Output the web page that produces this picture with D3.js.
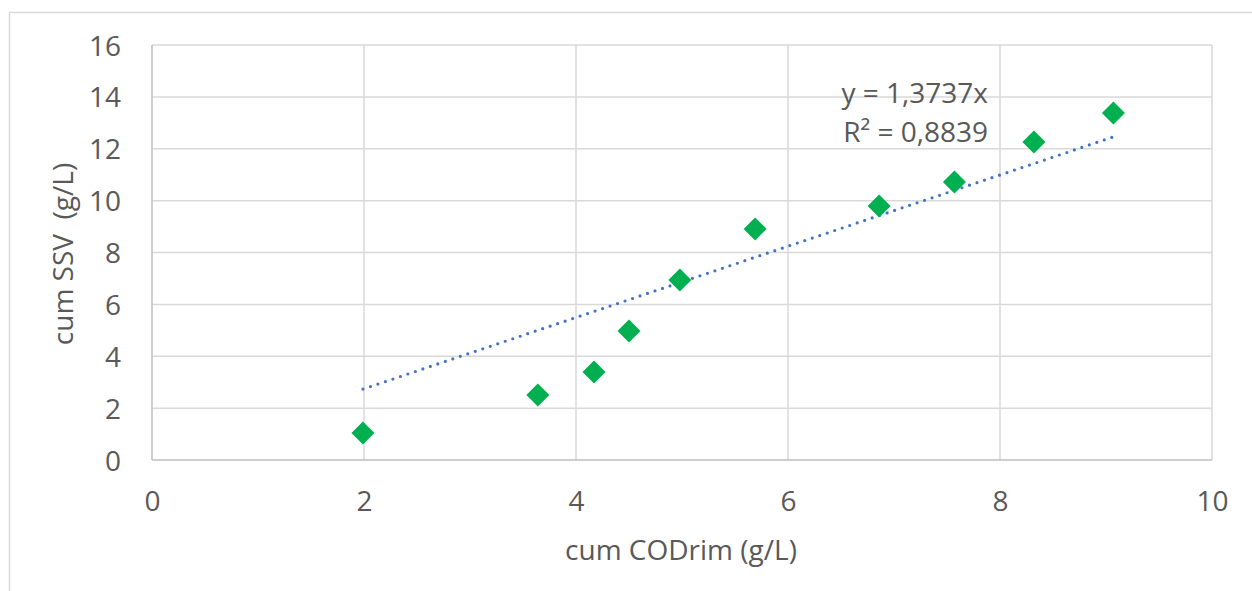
<!DOCTYPE html>
<html>
<head>
<meta charset="utf-8">
<script src="https://cdn.jsdelivr.net/npm/d3@7/dist/d3.min.js"></script>
<style>
  html, body { margin: 0; padding: 0; background: #fff; }
  svg { display: block; }
  text { font-family: "Open Sans", sans-serif; fill: #595959; white-space: pre; }
</style>
</head>
<body>
<script>
// Cumulative CODrim removed vs cumulative SSV produced
const codValues = [1.99, 3.64, 4.17, 4.50, 4.98, 5.69, 6.86, 7.57, 8.32, 9.07];
const ssvValues = [1.04, 2.51, 3.39, 4.97, 6.94, 8.91, 9.79, 10.72, 12.26, 13.38];

// Linear fit through the origin
const trendSlope = 1.3737;
const trendR2 = 0.8839;

const xTicks = [0, 2, 4, 6, 8, 10];
const yTicks = [0, 2, 4, 6, 8, 10, 12, 14, 16];

const xTitle = "cum CODrim (g/L)";
const yTitle = "cum SSV  (g/L)";

const W = 1252, H = 591;
const plot = { left: 152, right: 1212, top: 45, bottom: 460 };

const svg = d3.select("body").append("svg")
  .attr("width", W).attr("height", H);

// Outer chart frame (only top and left edges fall inside the view)
svg.append("path")
  .attr("d", `M9.5,${H} V12.5 H${W}`)
  .attr("fill", "none").attr("stroke", "#d9d9d9").attr("stroke-width", 1.5);

const x = d3.scaleLinear().domain([0, 10]).range([plot.left, plot.right]);
const y = d3.scaleLinear().domain([0, 16]).range([plot.bottom, plot.top]);

// Gridlines
const grid = svg.append("g");
grid.selectAll("line.h").data(yTicks.filter(d => d > 0)).join("line")
  .attr("x1", plot.left).attr("x2", plot.right)
  .attr("y1", d => y(d)).attr("y2", d => y(d))
  .attr("stroke", "#d9d9d9").attr("stroke-width", 1.5);
grid.selectAll("line.v").data(xTicks.filter(d => d > 0)).join("line")
  .attr("y1", plot.top).attr("y2", plot.bottom)
  .attr("x1", d => x(d)).attr("x2", d => x(d))
  .attr("stroke", "#d9d9d9").attr("stroke-width", 1.5);

// Axes lines
svg.append("line")
  .attr("x1", plot.left).attr("x2", plot.left)
  .attr("y1", plot.top).attr("y2", plot.bottom)
  .attr("stroke", "#bfbfbf").attr("stroke-width", 1.5);
svg.append("line")
  .attr("x1", plot.left).attr("x2", plot.right)
  .attr("y1", plot.bottom).attr("y2", plot.bottom)
  .attr("stroke", "#bfbfbf").attr("stroke-width", 1.5);

// Axes built with d3 axis generators, lines hidden, labels styled
const fontSize = 28;
const yAxis = svg.append("g")
  .attr("transform", `translate(${plot.left},0)`)
  .call(d3.axisLeft(y).tickValues(yTicks).tickSize(0).tickPadding(31).tickFormat(d3.format("d")));
const xAxis = svg.append("g")
  .attr("transform", `translate(0,${plot.bottom})`)
  .call(d3.axisBottom(x).tickValues(xTicks).tickSize(0).tickPadding(41).tickFormat(d3.format("d")));
[yAxis, xAxis].forEach(g => {
  g.select(".domain").remove();
  g.selectAll("text")
    .attr("font-family", "'Open Sans', sans-serif")
    .attr("font-size", fontSize)
    .attr("fill", "#595959")
    .attr("dy", "0.36em");
});

// Axis titles
svg.append("text")
  .attr("x", 681).attr("y", 560)
  .attr("text-anchor", "middle")
  .attr("font-size", fontSize)
  .text(xTitle);
svg.append("text")
  .attr("transform", `translate(73,${254}) rotate(-90)`)
  .attr("text-anchor", "middle")
  .attr("font-size", fontSize)
  .text(yTitle);

// Trendline over the range of the data
const x0 = d3.min(codValues), x1 = d3.max(codValues);
svg.append("line")
  .attr("x1", x(x0)).attr("y1", y(trendSlope * x0))
  .attr("x2", x(x1)).attr("y2", y(trendSlope * x1))
  .attr("stroke", "#4472c4").attr("stroke-width", 3.2)
  .attr("stroke-linecap", "round")
  .attr("stroke-dasharray", "0 7.9");

// Data points as diamonds
const diamond = d3.symbol().type(d3.symbolSquare).size(265);
svg.append("g").selectAll("path")
  .data(codValues.map((c, i) => [c, ssvValues[i]]))
  .join("path")
  .attr("d", diamond)
  .attr("transform", d => `translate(${x(d[0])},${y(d[1])}) rotate(45)`)
  .attr("fill", "#00b050");

// Trendline equation label
const fmt = v => v.toFixed(4).replace(".", ",");
const eq = svg.append("g").attr("font-size", fontSize).attr("text-anchor", "end");
eq.append("text").attr("x", 988).attr("y", 103).text(`y = ${fmt(trendSlope)}x`);
eq.append("text").attr("x", 988).attr("y", 142).text(`R² = ${fmt(trendR2)}`);
</script>
</body>
</html>
